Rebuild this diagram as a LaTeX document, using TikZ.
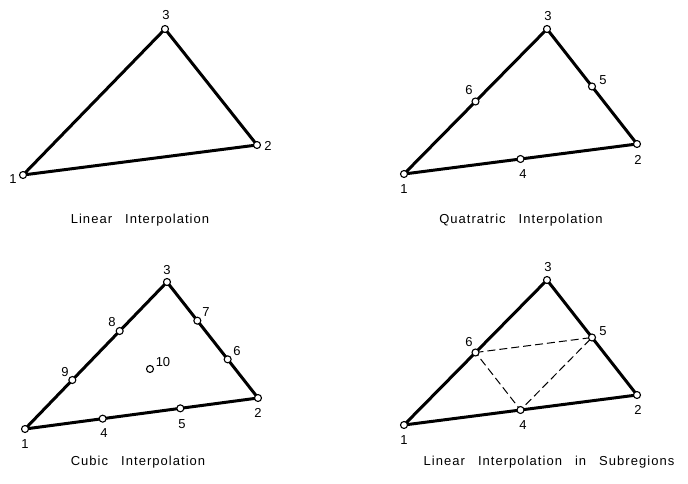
\documentclass[tikz,border=0pt]{standalone}
\usepackage{fontspec}
\setmainfont{Liberation Sans}
\newfontfamily\capfont[LetterSpace=8]{Liberation Sans}
\usetikzlibrary{calc}
\tikzset{
  edge/.style={line width=3pt, line cap=round, line join=round},
  vtx/.style={circle, draw, fill=white, line width=1.1pt, inner sep=0pt, minimum size=7pt},
  lbl/.style={font=\fontsize{13}{13}\selectfont, inner sep=0pt},
  capt/.style={font=\capfont\fontsize{13}{13}\selectfont, inner sep=0pt},
  dashline/.style={line width=1pt, dash pattern=on 8pt off 4pt}
}
\begin{document}
\begin{tikzpicture}[x=1pt,y=-1pt]
\useasboundingbox (0,0) rectangle (688,484);
% ---------- Panel 1: Linear ----------
\coordinate (a1) at (23,175);
\coordinate (a2) at (257,145);
\coordinate (a3) at (165,29);
\draw[edge] (a1) -- (a2) -- (a3) -- cycle;
\foreach \p in {a1,a2,a3} \node[vtx] at (\p) {};
\node[lbl] (la1) at (13,179) {1};
\node[lbl] (la2) at (268,146) {2};
\node[lbl] (la3) at (166,15) {3};
\node[capt] (ca) at (140,220) {Linear\hspace{1em}Interpolation};
% ---------- Panel 2: Quadratic ----------
\coordinate (b1) at (404,174);
\coordinate (b2) at (637,144);
\coordinate (b3) at (547,29);
\coordinate (b4) at ($(b1)!0.5!(b2)$);
\coordinate (b5) at ($(b2)!0.5!(b3)$);
\coordinate (b6) at ($(b1)!0.5!(b3)$);
\draw[edge] (b1) -- (b2) -- (b3) -- cycle;
\foreach \p in {b1,b2,b3,b4,b5,b6} \node[vtx] at (\p) {};
\node[lbl] (lb1) at (404,189) {1};
\node[lbl] (lb2) at (638,160) {2};
\node[lbl] (lb3) at (548,16) {3};
\node[lbl] (lb4) at (523,174) {4};
\node[lbl] (lb5) at (603,80) {5};
\node[lbl] (lb6) at (469,90) {6};
\node[capt] (cb) at (521,220) {Quatratric\hspace{1em}Interpolation};
% ---------- Panel 3: Cubic ----------
\coordinate (c1) at (25,429);
\coordinate (c2) at (258,398);
\coordinate (c3) at (167,282);
\coordinate (c4) at ($(c1)!1/3!(c2)$);
\coordinate (c5) at ($(c1)!2/3!(c2)$);
\coordinate (c6) at ($(c2)!1/3!(c3)$);
\coordinate (c7) at ($(c2)!2/3!(c3)$);
\coordinate (c8) at ($(c3)!1/3!(c1)$);
\coordinate (c9) at ($(c3)!2/3!(c1)$);
\coordinate (c10) at (150,369);
\draw[edge] (c1) -- (c2) -- (c3) -- cycle;
\foreach \p in {c1,c2,c3,c4,c5,c6,c7,c8,c9,c10} \node[vtx] at (\p) {};
\node[lbl] (lc1) at (25,444) {1};
\node[lbl] (lc2) at (258,413) {2};
\node[lbl] (lc3) at (167,270) {3};
\node[lbl] (lc4) at (104,433) {4};
\node[lbl] (lc5) at (182,424) {5};
\node[lbl] (lc6) at (237,351) {6};
\node[lbl] (lc7) at (206,312) {7};
\node[lbl] (lc8) at (112,322) {8};
\node[lbl] (lc9) at (65,372) {9};
\node[lbl] (lc10) at (163,362) {10};
\node[capt] (cc) at (138,462) {Cubic\hspace{1em}Interpolation};
% ---------- Panel 4: Linear in subregions ----------
\coordinate (d1) at (404,425);
\coordinate (d2) at (637,395);
\coordinate (d3) at (547,280);
\coordinate (d4) at ($(d1)!0.5!(d2)$);
\coordinate (d5) at ($(d2)!0.5!(d3)$);
\coordinate (d6) at ($(d1)!0.5!(d3)$);
\draw[edge] (d1) -- (d2) -- (d3) -- cycle;
\draw[dashline] (d6) -- (d5) -- (d4) -- cycle;
\foreach \p in {d1,d2,d3,d4,d5,d6} \node[vtx] at (\p) {};
\node[lbl] (ld1) at (404,440) {1};
\node[lbl] (ld2) at (638,410) {2};
\node[lbl] (ld3) at (548,267) {3};
\node[lbl] (ld4) at (523,425) {4};
\node[lbl] (ld5) at (603,331) {5};
\node[lbl] (ld6) at (469,342) {6};
\node[capt] (cd) at (549,462) {Linear\hspace{1em}Interpolation\hspace{1em}in\hspace{1em}Subregions};
\end{tikzpicture}
\end{document}
